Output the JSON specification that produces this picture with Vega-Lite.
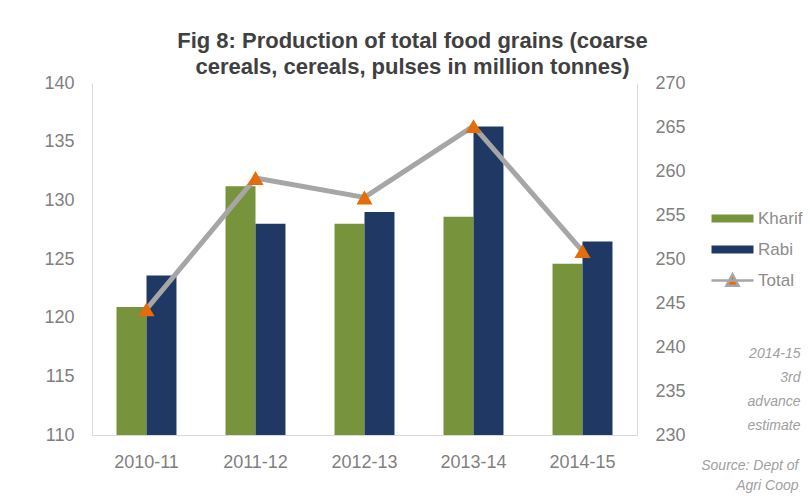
{
  "$schema": "https://vega.github.io/schema/vega-lite/v6.json",
  "width": 545,
  "height": 352,
  "autosize": {"type": "none"},
  "padding": {"left": 92, "top": 83, "right": 173, "bottom": 61},
  "background": "white",
  "config": {"view": {"stroke": null}, "font": "Liberation Sans"},
  "title": {
    "text": ["Fig 8: Production of total food grains (coarse", "cereals, cereals, pulses in million tonnes)"],
    "fontSize": 22,
    "fontWeight": "bold",
    "color": "#404040",
    "lineHeight": 26,
    "anchor": "middle",
    "dx": 48,
    "offset": -5,
    "font": "Liberation Sans"
  },
  "data": {
    "values": [
      {"year": "2010-11", "series": "Kharif", "value": 120.9},
      {"year": "2010-11", "series": "Rabi", "value": 123.6},
      {"year": "2010-11", "series": "Total", "value": 244.3},
      {"year": "2011-12", "series": "Kharif", "value": 131.2},
      {"year": "2011-12", "series": "Rabi", "value": 128.0},
      {"year": "2011-12", "series": "Total", "value": 259.2},
      {"year": "2012-13", "series": "Kharif", "value": 128.0},
      {"year": "2012-13", "series": "Rabi", "value": 129.0},
      {"year": "2012-13", "series": "Total", "value": 257.0},
      {"year": "2013-14", "series": "Kharif", "value": 128.6},
      {"year": "2013-14", "series": "Rabi", "value": 136.3},
      {"year": "2013-14", "series": "Total", "value": 265.1},
      {"year": "2014-15", "series": "Kharif", "value": 124.6},
      {"year": "2014-15", "series": "Rabi", "value": 126.5},
      {"year": "2014-15", "series": "Total", "value": 250.9}
    ]
  },
  "layer": [
    {
      "transform": [{"filter": "datum.series !== 'Total'"}],
      "mark": {"type": "bar"},
      "encoding": {
        "x": {
          "field": "year",
          "type": "nominal",
          "sort": null,
          "scale": {"paddingInner": 0.45, "paddingOuter": 0.225},
          "axis": {
            "labelAngle": 0,
            "labelPadding": 18,
            "ticks": false,
            "domainColor": "#d9d9d9",
            "labelFontSize": 18,
            "labelColor": "#7f7f7f",
            "labelFont": "Liberation Sans",
            "title": ["Source: Dept of", "Agri Coop"],
            "titleX": 706,
            "titleY": 23,
            "titleAlign": "right",
            "titleBaseline": "top",
            "titleAngle": 0,
            "titleFontSize": 14,
            "titleFontStyle": "italic",
            "titleFontWeight": "normal",
            "titleColor": "#a0a0a0",
            "titleLineHeight": 20
          }
        },
        "xOffset": {"field": "series", "type": "nominal", "scale": {"domain": ["Kharif", "Rabi"], "paddingInner": 0}},
        "y": {
          "field": "value",
          "type": "quantitative",
          "scale": {"domain": [110, 140], "zero": false, "nice": false},
          "axis": {
            "values": [110, 115, 120, 125, 130, 135, 140],
            "ticks": false,
            "labelPadding": 18,
            "labelFontSize": 18,
            "labelColor": "#7f7f7f",
            "labelFont": "Liberation Sans",
            "domainColor": "#d9d9d9",
            "grid": false,
            "title": null
          }
        },
        "y2": {"datum": 110},
        "color": {
          "field": "series",
          "type": "nominal",
          "scale": {"domain": ["Kharif", "Rabi", "Total"], "range": ["#77933C", "#1F3864", "#E46C0A"]},
          "legend": {
            "orient": "none",
            "legendX": 619,
            "legendY": 114,
            "title": null,
            "padding": 0,
            "symbolSize": 1600,
            "labelFontSize": 17,
            "labelColor": "#8c8c8c",
            "labelFont": "Liberation Sans",
            "labelOffset": 4,
            "rowPadding": 0,
            "encode": {
              "symbols": {
                "update": {
                  "shape": {"signal": "datum.value === 'Total' ? 'M-1.05,0H1.05M-0.3,0.26L0,-0.3L0.3,0.26Z' : 'M-1.05,-0.2H1.05V0.2H-1.05Z'"},
                  "fill": {"signal": "datum.value === 'Kharif' ? '#77933C' : datum.value === 'Rabi' ? '#1F3864' : '#E46C0A'"},
                  "stroke": {"signal": "datum.value === 'Total' ? '#A6A6A6' : 'transparent'"},
                  "strokeWidth": {"value": 2.5},
                  "opacity": {"value": 1},
                  "fillOpacity": {"value": 1}
                }
              }
            }
          }
        }
      }
    },
    {
      "transform": [{"filter": "datum.series === 'Total'"}],
      "layer": [
        {
          "mark": {"type": "line", "color": "#A6A6A6", "strokeWidth": 5},
          "encoding": {
            "x": {"field": "year", "type": "nominal", "sort": null},
            "y": {
              "field": "value",
              "type": "quantitative",
              "scale": {"domain": [230, 270], "zero": false, "nice": false},
              "axis": {
                "orient": "right",
                "values": [230, 235, 240, 245, 250, 255, 260, 265, 270],
                "ticks": false,
                "labelPadding": 18,
                "labelFontSize": 18,
                "labelColor": "#7f7f7f",
                "labelFont": "Liberation Sans",
                "domainColor": "#d9d9d9",
                "grid": false,
                "title": ["2014-15", "3rd", "advance", "estimate"],
                "titleX": 163,
                "titleY": 263,
                "titleAlign": "right",
                "titleBaseline": "top",
                "titleAngle": 0,
                "titleFontSize": 14,
                "titleFontStyle": "italic",
                "titleFontWeight": "normal",
                "titleColor": "#a0a0a0",
                "titleLineHeight": 24
              }
            }
          }
        },
        {
          "mark": {"type": "point", "shape": "triangle-up", "filled": true, "size": 260, "opacity": 1},
          "encoding": {
            "x": {"field": "year", "type": "nominal", "sort": null},
            "y": {"field": "value", "type": "quantitative"},
            "color": {"field": "series", "type": "nominal"}
          }
        }
      ]
    }
  ],
  "resolve": {"scale": {"y": "independent"}}
}
